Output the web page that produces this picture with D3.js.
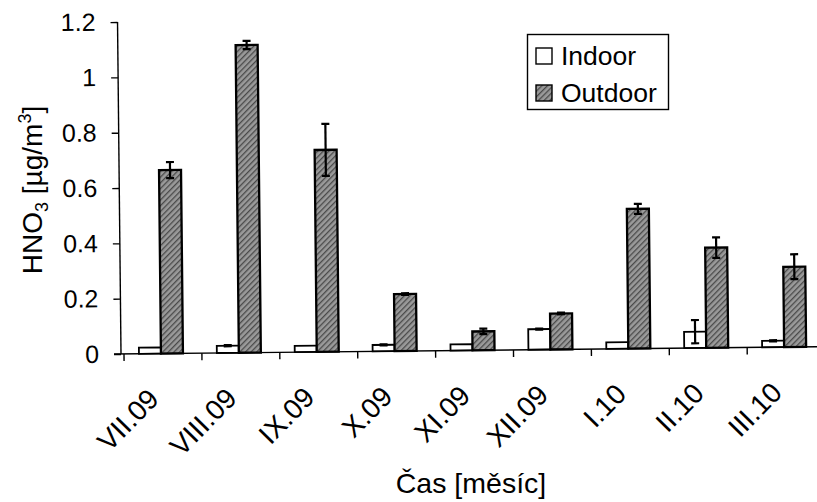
<!DOCTYPE html>
<html>
<head>
<meta charset="utf-8">
<script src="https://cdn.jsdelivr.net/npm/d3@7/dist/d3.min.js"></script>
<style>
  html, body { margin: 0; padding: 0; background: #fff; }
  svg { display: block; font-family: "Liberation Sans", Arial, Helvetica, sans-serif; }
</style>
</head>
<body>
<svg id="chart" width="817" height="502"></svg>
<script>
// ---- data ----
const categories = ["VII.09", "VIII.09", "IX.09", "X.09", "XI.09", "XII.09", "I.10", "II.10", "III.10"];
const seriesNames = ["Indoor", "Outdoor"];
const indoor     = [0.022, 0.026, 0.023, 0.023, 0.022, 0.074, 0.024, 0.059, 0.023];
const indoorErr  = [0.000, 0.002, 0.000, 0.002, 0.000, 0.002, 0.000, 0.042, 0.002];
const outdoor    = [0.663, 1.112, 0.730, 0.206, 0.068, 0.130, 0.505, 0.362, 0.290];
const outdoorErr = [0.029, 0.015, 0.094, 0.003, 0.010, 0.003, 0.018, 0.037, 0.045];
const yTicks = [0, 0.2, 0.4, 0.6, 0.8, 1, 1.2];
const yTickLabels = ["0", "0.2", "0.4", "0.6", "0.8", "1", "1.2"];

// ---- layout ----
const svg = d3.select("#chart");
const originX = 121, originY = 354;
const step = 77.9;
const xStart = 124;

const x = d3.scaleBand().domain(categories).range([xStart, xStart + step * categories.length]).padding(0);
const x1 = d3.scaleBand().domain(seriesNames).range([x.bandwidth() / 2 - 24, x.bandwidth() / 2 + 20]).padding(0);
const y = d3.scaleLinear().domain([0, 1.2]).range([originY, 22]);

// pattern for the outdoor bars
const defs = svg.append("defs");
const pat = defs.append("pattern")
  .attr("id", "hatch").attr("patternUnits", "userSpaceOnUse")
  .attr("width", 4).attr("height", 4)
  .attr("patternTransform", "rotate(45)");
pat.append("rect").attr("width", 4).attr("height", 4).attr("fill", "#9a9a9a");
pat.append("rect").attr("width", 1.3).attr("height", 4).attr("fill", "#4a4a4a");

const g = svg.append("g").attr("transform", `rotate(-0.6, ${originX}, ${originY})`);

// rows
const rows = categories.map((c, i) => ({
  cat: c,
  vals: [
    { key: "Indoor", v: indoor[i], e: indoorErr[i] },
    { key: "Outdoor", v: outdoor[i], e: outdoorErr[i] }
  ]
}));

// bars
const groups = g.selectAll("g.cat").data(rows).join("g")
  .attr("class", "cat")
  .attr("transform", d => `translate(${x(d.cat)},0)`);

groups.selectAll("rect").data(d => d.vals).join("rect")
  .attr("x", d => x1(d.key))
  .attr("width", x1.bandwidth())
  .attr("y", d => y(d.v))
  .attr("height", d => y(0) - y(d.v))
  .attr("fill", d => d.key === "Indoor" ? "#fff" : "url(#hatch)")
  .attr("stroke", "#000")
  .attr("stroke-width", d => d.key === "Indoor" ? 1.8 : 2.3);

// error bars
const eb = groups.selectAll("g.err").data(d => d.vals.filter(v => v.e > 0)).join("g").attr("class", "err");
eb.append("line")
  .attr("x1", d => x1(d.key) + x1.bandwidth() / 2)
  .attr("x2", d => x1(d.key) + x1.bandwidth() / 2)
  .attr("y1", d => y(d.v + d.e))
  .attr("y2", d => y(d.v - d.e))
  .attr("stroke", "#000").attr("stroke-width", 2.2);
["top", "bot"].forEach(k => {
  eb.append("line")
    .attr("x1", d => x1(d.key) + x1.bandwidth() / 2 - 4)
    .attr("x2", d => x1(d.key) + x1.bandwidth() / 2 + 4)
    .attr("y1", d => y(k === "top" ? d.v + d.e : d.v - d.e))
    .attr("y2", d => y(k === "top" ? d.v + d.e : d.v - d.e))
    .attr("stroke", "#000").attr("stroke-width", 2.2);
});

// y axis
const yAxis = g.append("g").attr("transform", `translate(${originX},0)`)
  .call(d3.axisLeft(y).tickValues(yTicks).tickSize(7).tickPadding(15)
    .tickFormat((d, i) => yTickLabels[i]));
yAxis.select(".domain").attr("d", `M0,${y(1.2)}V${y(0)}`).attr("stroke", "#000").attr("stroke-width", 1.4);
yAxis.selectAll(".tick line").attr("stroke", "#000").attr("stroke-width", 1.4);
yAxis.selectAll(".tick text").attr("font-size", 25).attr("fill", "#000")
  .attr("font-family", "Liberation Sans, Arial, sans-serif");

// x axis line
g.append("line").attr("x1", originX - 7).attr("x2", 830).attr("y1", y(0)).attr("y2", y(0))
  .attr("stroke", "#000").attr("stroke-width", 1.4);

// category boundary ticks
const bounds = categories.map(c => x(c)).concat([x.range()[1]]);
g.selectAll("line.bt").data(bounds).join("line").attr("class", "bt")
  .attr("x1", d => d).attr("x2", d => d)
  .attr("y1", y(0)).attr("y2", y(0) + 7)
  .attr("stroke", "#000").attr("stroke-width", 1.4);

// category labels
g.selectAll("text.cl").data(categories).join("text").attr("class", "cl")
  .attr("transform", d => `translate(${x(d) + x.bandwidth() / 2 - 3},${originY + 47}) rotate(-45)`)
  .attr("text-anchor", "end")
  .attr("font-size", 28)
  .text(d => d);

// axis titles
const yt = svg.append("text")
  .attr("transform", "translate(42,190) rotate(-90)")
  .attr("text-anchor", "middle")
  .attr("font-size", 28);
yt.append("tspan").text("HNO");
yt.append("tspan").attr("font-size", 18).attr("dy", 6).text("3");
yt.append("tspan").attr("dy", -6).text(" [µg/m");
yt.append("tspan").attr("font-size", 18).attr("dy", -11).text("3");
yt.append("tspan").attr("dy", 11).text("]");

svg.append("text").attr("x", 471).attr("y", 493).attr("text-anchor", "middle")
  .attr("font-size", 28.5).text("Čas [měsíc]");

// legend
const lg = svg.append("g");
lg.append("rect").attr("x", 527.5).attr("y", 34.5).attr("width", 141).attr("height", 75)
  .attr("fill", "#fff").attr("stroke", "#000").attr("stroke-width", 1.4);
const li = lg.selectAll("g.li").data(seriesNames).join("g").attr("class", "li")
  .attr("transform", (d, i) => `translate(536,${48 + i * 37})`);
li.append("rect").attr("width", 16).attr("height", 16)
  .attr("fill", d => d === "Indoor" ? "#fff" : "url(#hatch)")
  .attr("stroke", "#000").attr("stroke-width", 1.4);
li.append("text").attr("x", 25).attr("y", 17).attr("font-size", 26.5).text(d => d);
</script>
</body>
</html>
